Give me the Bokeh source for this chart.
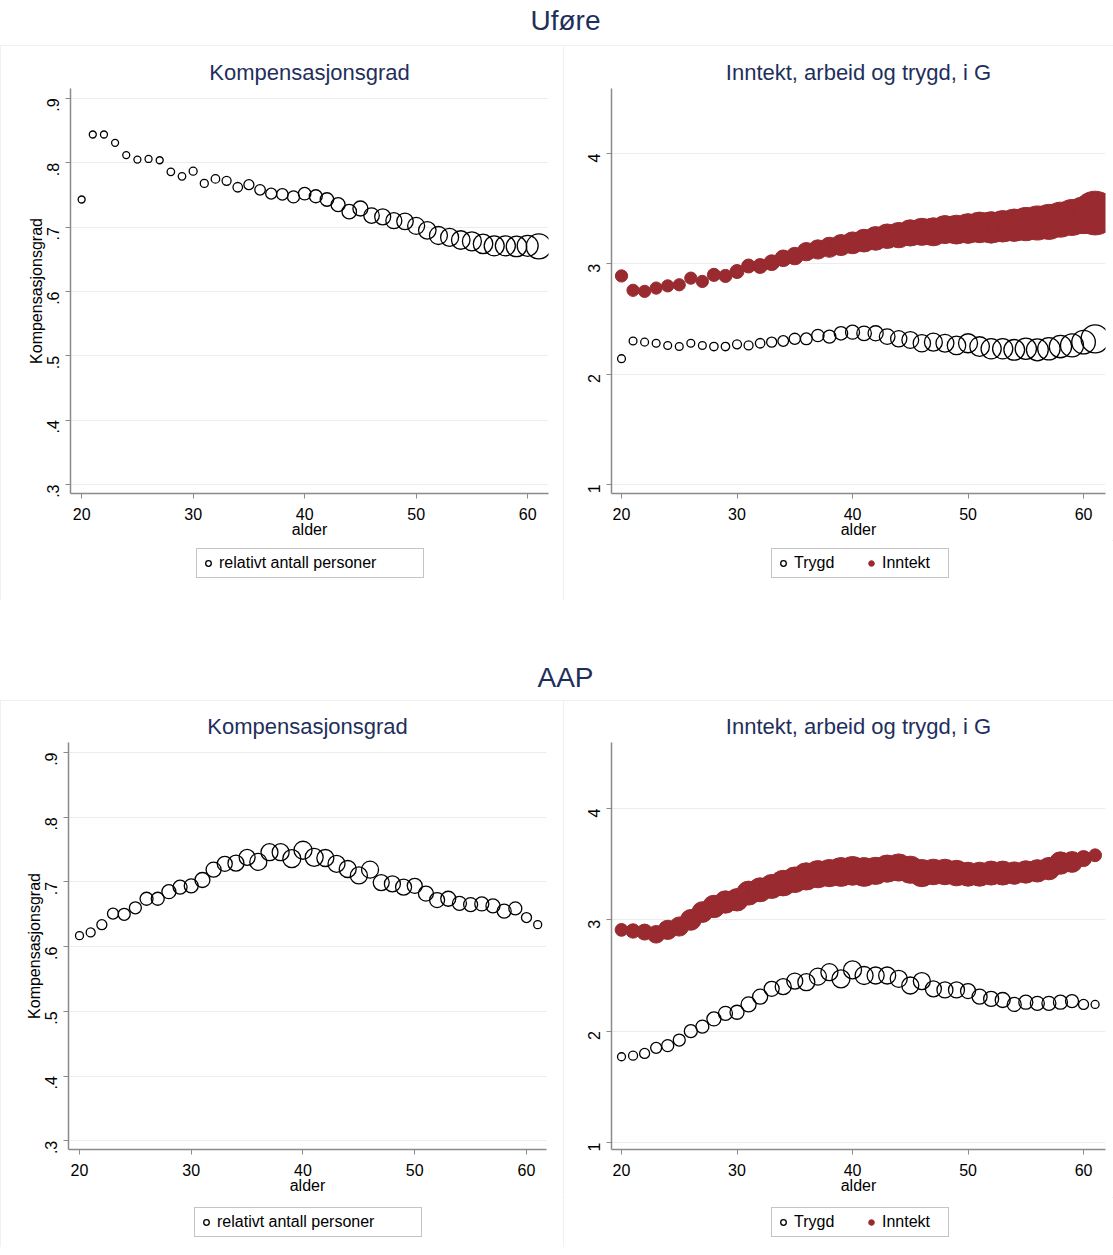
import math
from bokeh.plotting import figure
from bokeh.models import (Range1d, FixedTicker, CustomJSTickFormatter, Legend,
                          LegendItem, Label, ColumnDataSource)
from bokeh.layouts import column, row
from bokeh.embed import file_html
from bokeh.resources import INLINE

# ---------------- data ----------------
ages = list(range(20, 62))

# Uføre
ufore_komp = [0.743, 0.844, 0.844, 0.831, 0.812, 0.805, 0.806, 0.804, 0.786, 0.779,
              0.787, 0.768, 0.775, 0.772, 0.762, 0.766, 0.758, 0.752, 0.751, 0.747,
              0.752, 0.748, 0.743, 0.735, 0.724, 0.729, 0.718, 0.716, 0.710, 0.709,
              0.702, 0.695, 0.687, 0.684, 0.680, 0.678, 0.674, 0.671, 0.671, 0.670,
              0.671, 0.670]
ufore_trygd = [2.14, 2.30, 2.29, 2.28, 2.26, 2.25, 2.28, 2.26, 2.25, 2.25,
               2.27, 2.26, 2.28, 2.29, 2.30, 2.32, 2.32, 2.35, 2.34, 2.37,
               2.38, 2.37, 2.37, 2.34, 2.32, 2.31, 2.28, 2.29, 2.28, 2.26,
               2.28, 2.25, 2.23, 2.23, 2.22, 2.23, 2.22, 2.23, 2.25, 2.26,
               2.29, 2.32]
ufore_inntekt = [2.89, 2.76, 2.75, 2.78, 2.80, 2.81, 2.87, 2.84, 2.90, 2.89,
                 2.93, 2.98, 2.98, 3.01, 3.05, 3.07, 3.11, 3.13, 3.15, 3.17,
                 3.19, 3.21, 3.23, 3.25, 3.26, 3.28, 3.29, 3.29, 3.31, 3.31,
                 3.32, 3.33, 3.33, 3.34, 3.35, 3.36, 3.37, 3.38, 3.40, 3.42,
                 3.44, 3.46]
ufore_rel_n = [7, 7, 7, 7, 7, 7, 7, 7, 7.5, 7.5, 8,
               8, 8.5, 9, 9.5, 10, 10.5, 11, 11.5, 12, 12.5,
               13, 13.5, 14, 14.5, 15, 15.5, 16, 16, 16.5, 17,
               17.5, 18, 18, 18.5, 19, 19.5, 20, 20, 20.5, 21, 25]

# AAP
aap_komp = [0.617, 0.622, 0.634, 0.651, 0.650, 0.660, 0.674, 0.674, 0.685, 0.692,
            0.694, 0.703, 0.719, 0.728, 0.729, 0.738, 0.731, 0.746, 0.746, 0.736,
            0.749, 0.738, 0.737, 0.728, 0.720, 0.710, 0.719, 0.699, 0.697, 0.692,
            0.694, 0.682, 0.672, 0.674, 0.667, 0.665, 0.666, 0.663, 0.655, 0.659,
            0.645, 0.634]
aap_trygd = [1.77, 1.78, 1.80, 1.85, 1.87, 1.92, 2.00, 2.04, 2.11, 2.16,
             2.17, 2.24, 2.31, 2.38, 2.40, 2.45, 2.44, 2.49, 2.53, 2.47,
             2.55, 2.50, 2.50, 2.50, 2.47, 2.41, 2.45, 2.38, 2.37, 2.37,
             2.36, 2.31, 2.29, 2.28, 2.24, 2.26, 2.25, 2.25, 2.26, 2.27,
             2.24, 2.24]
aap_inntekt = [2.91, 2.90, 2.89, 2.87, 2.91, 2.94, 3.00, 3.07, 3.12, 3.16,
               3.18, 3.24, 3.27, 3.30, 3.33, 3.36, 3.39, 3.41, 3.42, 3.43,
               3.44, 3.43, 3.44, 3.46, 3.47, 3.45, 3.42, 3.43, 3.43, 3.42,
               3.41, 3.41, 3.42, 3.42, 3.42, 3.43, 3.44, 3.46, 3.51, 3.52,
               3.55, 3.58]
aap_rel_n = [8, 9, 10, 11, 12, 12, 13, 13, 14, 14, 14,
             15, 15, 15, 16, 16, 17, 17, 17, 18, 18,
             18, 17, 17, 17, 17, 17, 16, 16, 16, 15,
             15, 15, 15, 14, 14, 14, 14, 14, 13, 10, 8]

x_ticks = [20, 30, 40, 50, 60]
komp_ticks = [0.3, 0.4, 0.5, 0.6, 0.7, 0.8, 0.9]
g_ticks = [1, 2, 3, 4]

section_titles = ["Uføre", "AAP"]
panel_titles = ["Kompensasjonsgrad", "Inntekt, arbeid og trygd, i G"]

# ---------------- style ----------------
FONT = "Liberation Sans"
NAVY = "#1f2f5c"
RED = "#992a2f"
AXIS = "#8a8a8a"
GRID = "#ececec"
NAN = float("nan")


def bare_figure(width, height):
    p = figure(width=width, height=height, x_range=Range1d(0, width),
               y_range=Range1d(0, height), toolbar_location=None,
               output_backend="svg", min_border=0, title=None,
               x_axis_location=None, y_axis_location=None)
    p.grid.visible = False
    p.outline_line_color = None
    return p


def make_panel(title, width, height, xr, yr, yticks, borders, ylabel, fmt_code):
    left, right, top, bottom = borders
    p = figure(width=width, height=height, x_range=Range1d(*xr), y_range=Range1d(*yr),
               toolbar_location=None, output_backend="svg",
               min_border_left=left, min_border_right=right,
               min_border_top=top, min_border_bottom=bottom)
    p.title.text = title
    p.title.align = "center"
    p.title.text_font = FONT
    p.title.text_font_size = "22px"
    p.title.text_font_style = "normal"
    p.title.text_color = NAVY
    p.title.standoff = 7
    p.outline_line_color = None
    p.xgrid.visible = False
    p.ygrid.grid_line_color = GRID
    p.ygrid.grid_line_width = 1
    p.xaxis.ticker = FixedTicker(ticks=x_ticks)
    p.yaxis.ticker = FixedTicker(ticks=yticks)
    p.yaxis.formatter = CustomJSTickFormatter(code=fmt_code)
    for ax in (p.xaxis[0], p.yaxis[0]):
        ax.axis_line_color = AXIS
        ax.axis_line_width = 1.5
        ax.major_tick_line_color = AXIS
        ax.major_tick_line_width = 1
        ax.major_tick_out = 5
        ax.major_tick_in = 0
        ax.minor_tick_line_color = None
        ax.major_label_text_font = FONT
        ax.major_label_text_font_size = "16px"
        ax.major_label_text_color = "black"
        ax.axis_label_text_font = FONT
        ax.axis_label_text_font_size = "16px"
        ax.axis_label_text_font_style = "normal"
        ax.axis_label_text_color = "black"
    p.xaxis.axis_label = "alder"
    p.xaxis.major_label_standoff = 9
    p.xaxis.axis_label_standoff = -2
    p.yaxis.major_label_orientation = math.pi / 2
    p.yaxis.major_label_standoff = 12
    p.yaxis.axis_label_standoff = -6
    if ylabel:
        p.yaxis.axis_label = ylabel
    return p


def legend_figure(width, height, entries, loc, label_width):
    lf = bare_figure(width, height)
    items = []
    for label, kw in entries:
        r = lf.scatter(x=[NAN], y=[NAN], marker="circle", **kw)
        items.append(LegendItem(label=label, renderers=[r]))
    leg = Legend(items=items, location=loc, orientation="horizontal")
    leg.border_line_color = AXIS
    leg.border_line_width = 1
    leg.background_fill_color = "white"
    leg.background_fill_alpha = 1
    leg.label_text_font = FONT
    leg.label_text_font_size = "16px"
    leg.label_text_color = "black"
    leg.glyph_width = 14
    leg.glyph_height = 20
    leg.label_height = 20
    leg.label_width = label_width
    leg.label_standoff = 4
    leg.padding = 4
    leg.spacing = 8
    leg.margin = 0
    lf.add_layout(leg, "center")
    return lf


HOLLOW = dict(fill_color=None, line_color="black", line_width=1.3)
FILLED = dict(fill_color=RED, line_color=RED, line_width=1)
BLOCK_STYLE = {"outline": "1px solid #ededed", "outline-offset": "-1px"}


def komp_block(width, height, leg_h, leg_loc, xr, yr, borders, komp, rel_n, scale):
    p = make_panel(panel_titles[0], width, height, xr, yr, komp_ticks, borders,
                   "Kompensasjonsgrad", "return tick.toFixed(1).replace(/^0/, '');")
    src = ColumnDataSource(dict(age=ages, y=komp, s=[n * scale for n in rel_n]))
    p.scatter("age", "y", source=src, size="s", marker="circle", **HOLLOW)
    lf = legend_figure(width, leg_h, [("relativt antall personer", HOLLOW)], leg_loc, 200)
    return column(p, lf, spacing=0, styles=BLOCK_STYLE)


def g_block(width, height, leg_h, leg_loc, xr, yr, borders, trygd, inntekt, rel_n, s_tr, s_in):
    p = make_panel(panel_titles[1], width, height, xr, yr, g_ticks, borders,
                   None, "return tick.toFixed(0);")
    src_t = ColumnDataSource(dict(age=ages, y=trygd, s=[n * s_tr for n in rel_n]))
    src_i = ColumnDataSource(dict(age=ages, y=inntekt, s=[n * s_in for n in rel_n]))
    p.scatter("age", "y", source=src_t, size="s", marker="circle", **HOLLOW)
    p.scatter("age", "y", source=src_i, size="s", marker="circle", **FILLED)
    lf = legend_figure(width, leg_h, [("Trygd", HOLLOW), ("Inntekt", FILLED)], leg_loc, 62)
    return column(p, lf, spacing=0, styles=BLOCK_STYLE)


def section_title(text, height, cy_from_top):
    p = bare_figure(1113, height)
    p.add_layout(Label(x=565, y=height - cy_from_top, text=text,
                       text_align="center", text_baseline="middle",
                       text_font=FONT, text_font_size="28px", text_color=NAVY))
    return p


t1 = section_title(section_titles[0], 45, 20)
b1 = komp_block(563, 495, 60, (126, 22), (19.0, 61.87), (0.286, 0.9155), (70, 15, 43, 47),
                ufore_komp, ufore_rel_n, 1.0)
b2 = g_block(550, 495, 60, (160, 22), (19.134, 61.90), (0.918, 4.589), (48, 8, 43, 47),
             ufore_trygd, ufore_inntekt, ufore_rel_n, 1.12, 1.75)
t2 = section_title(section_titles[1], 100, 77)
b3 = komp_block(563, 497, 50, (126, 10), (19.016, 61.79), (0.2865, 0.9155), (68, 17, 42, 48),
                aap_komp, aap_rel_n, 1.0)
b4 = g_block(550, 497, 50, (160, 10), (19.134, 61.90), (0.937, 4.593), (48, 8, 42, 48),
             aap_trygd, aap_inntekt, aap_rel_n, 1.0, 1.6)

layout = column(t1, row(b1, b2, spacing=0), t2, row(b3, b4, spacing=0), spacing=0)

open("out.html", "w").write(file_html(layout, INLINE))
